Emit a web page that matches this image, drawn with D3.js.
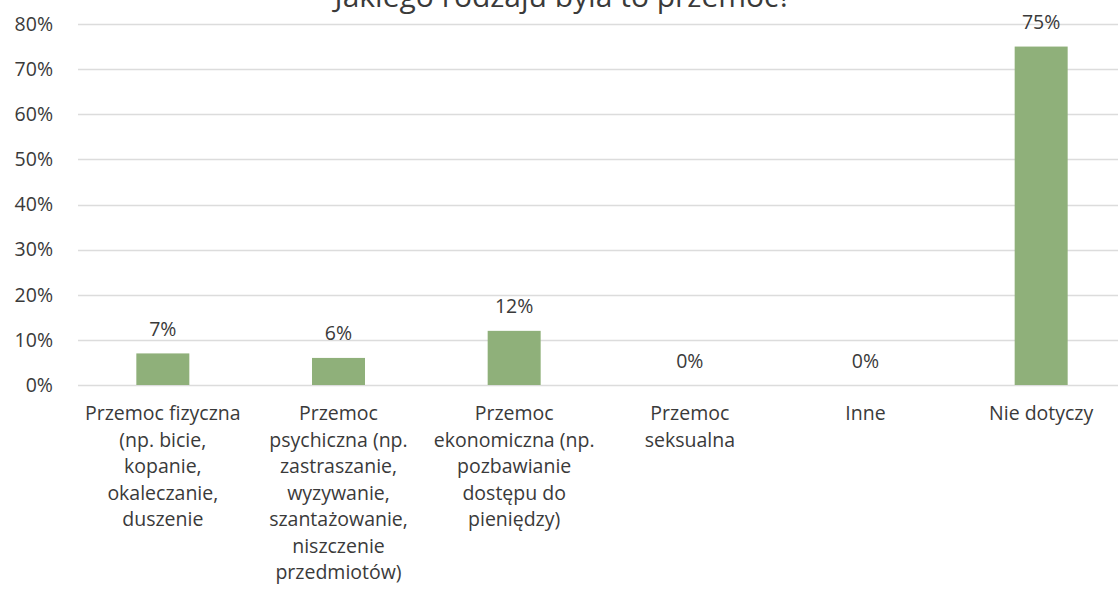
<!DOCTYPE html>
<html>
<head>
<meta charset="utf-8">
<script src="https://cdn.jsdelivr.net/npm/d3@7"></script>
<style>
  body { margin: 0; background: #fff; }
  svg { display: block; font-family: "Open Sans", Lato, sans-serif; }
</style>
</head>
<body>
<div id="chart"></div>
<script>
// data
var title = "Jakiego rodzaju była to przemoc?";
var categories = ["fizyczna", "psychiczna", "ekonomiczna", "seksualna", "inne", "nie"];
var labelLines = [
    ["Przemoc fizyczna", "(np. bicie,", "kopanie,", "okaleczanie,", "duszenie"],
    ["Przemoc", "psychiczna (np.", "zastraszanie,", "wyzywanie,", "szantażowanie,", "niszczenie", "przedmiotów)"],
    ["Przemoc", "ekonomiczna (np.", "pozbawianie", "dostępu do", "pieniędzy)"],
    ["Przemoc", "seksualna"],
    ["Inne"],
    ["Nie dotyczy"]
];
var values = [0.07, 0.06, 0.12, 0, 0, 0.75];
var yTicks = [0, 0.1, 0.2, 0.3, 0.4, 0.5, 0.6, 0.7, 0.8];

var W = 1118, H = 593;
var svg = d3.select("#chart").append("svg")
    .attr("width", W)
    .attr("height", H);

var x = d3.scaleBand()
    .domain(categories)
    .range([75, 1129])
    .padding(0);

var y = d3.scaleLinear()
    .domain([0, 0.8])
    .range([385, 24]);

var fmt = d3.format(".0%");

// gridlines
svg.append("g")
    .selectAll("line")
    .data(yTicks)
    .enter().append("line")
        .attr("x1", 78)
        .attr("x2", W)
        .attr("y1", function(d) { return Math.round(y(d)) + 0.5; })
        .attr("y2", function(d) { return Math.round(y(d)) + 0.5; })
        .attr("stroke", "#dcdcdc")
        .attr("stroke-width", 1.3);

// y axis labels
var yAxis = svg.append("g")
    .attr("transform", "translate(53,0)")
    .call(d3.axisLeft(y).tickValues(yTicks).tickFormat(fmt).tickSize(0).tickPadding(0));
yAxis.select(".domain").remove();
yAxis.selectAll("text")
    .style("font-size", "19.5px")
    .style("font-family", "'Open Sans', sans-serif")
    .attr("fill", "#3a3a3a");

// bars
var barW = 53;
svg.selectAll(".bar")
    .data(values)
    .enter().append("rect")
        .attr("class", "bar")
        .attr("x", function(d, i) { return x(categories[i]) + x.bandwidth() / 2 - barW / 2; })
        .attr("y", function(d) { return y(d); })
        .attr("width", barW)
        .attr("height", function(d) { return y(0) - y(d); })
        .attr("fill", "#8fb07a");

// value labels
svg.selectAll(".val")
    .data(values)
    .enter().append("text")
        .attr("class", "val")
        .attr("x", function(d, i) { return x(categories[i]) + x.bandwidth() / 2; })
        .attr("y", function(d) { return y(d) - 17.5; })
        .attr("text-anchor", "middle")
        .style("font-size", "19.5px")
        .attr("fill", "#3a3a3a")
        .text(fmt);

// category labels
var cat = svg.selectAll(".cat")
    .data(labelLines)
    .enter().append("text")
        .attr("class", "cat")
        .attr("text-anchor", "middle")
        .style("font-size", "19.5px")
        .attr("fill", "#3a3a3a");
cat.selectAll("tspan")
    .data(function(d, i) { return d.map(function(t) { return {t: t, i: i}; }); })
    .enter().append("tspan")
        .attr("x", function(d) { return x(categories[d.i]) + x.bandwidth() / 2; })
        .attr("y", function(d, j) { return 420 + j * 26.5; })
        .text(function(d) { return d.t; });

// title (cut off at the top, as in the source)
svg.append("text")
    .attr("x", 563)
    .attr("y", 7)
    .attr("text-anchor", "middle")
    .style("font-size", "30px")
    .attr("fill", "#3a3a3a")
    .text(title);
</script>
</body>
</html>
